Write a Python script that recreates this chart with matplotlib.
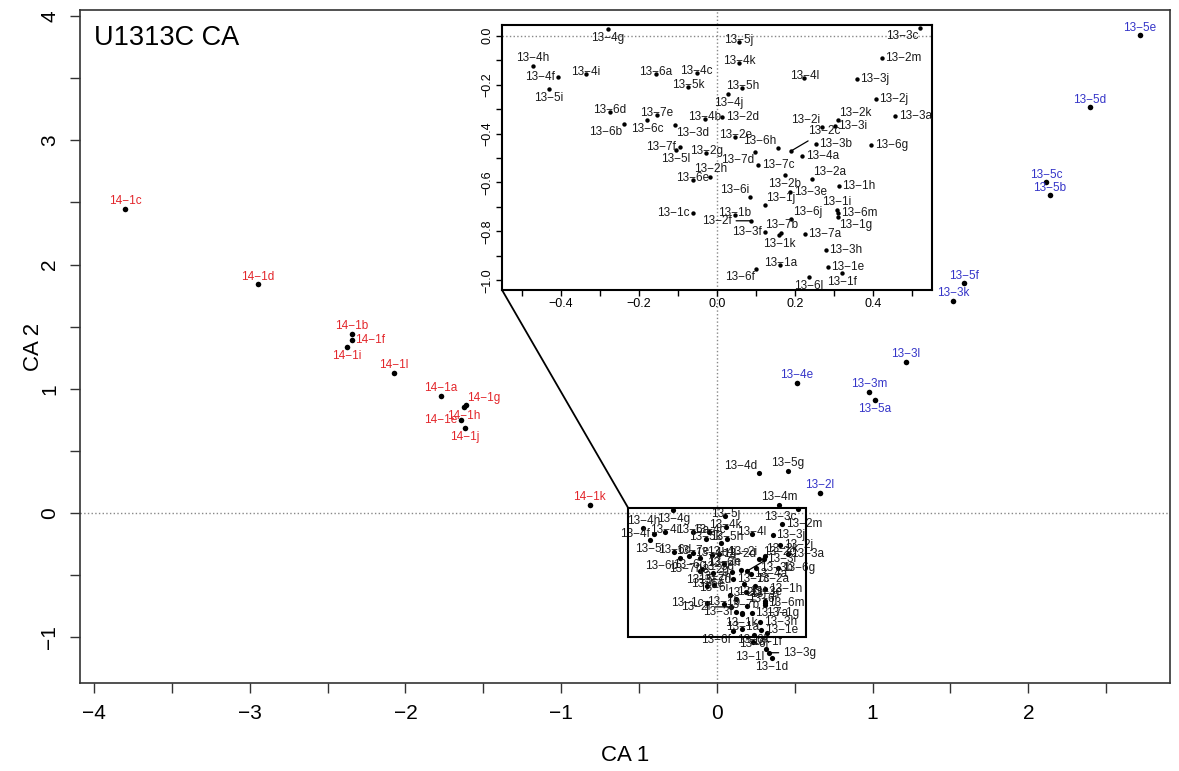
import matplotlib.pyplot as plt
from matplotlib.patches import Rectangle, ConnectionPatch

plt.rcParams['font.family'] = ['Liberation Sans', 'DejaVu Sans']

# site 14 samples (red)
labels_14 = ['14-1a', '14-1b', '14-1c', '14-1d', '14-1e', '14-1f',
             '14-1g', '14-1h', '14-1i', '14-1j', '14-1k', '14-1l']
ca1_14 = [-1.773, -2.344, -3.802, -2.948, -1.644, -2.344,
          -1.612, -1.625, -2.376, -1.618, -0.816, -2.074]
ca2_14 = [0.941, 1.440, 2.446, 1.842, 0.748, 1.392,
          0.869, 0.853, 1.336, 0.684, 0.064, 1.126]
pos_14 = ['a', 'a', 'a', 'a', 'l', 'r', 'ar', 'b', 'b', 'b', 'a', 'a']

# site 13 outliers (blue)
labels_13o = ['13-2l', '13-3k', '13-3l', '13-3m', '13-4e', '13-5a',
              '13-5b', '13-5c', '13-5d', '13-5e', '13-5f']
ca1_13o = [0.662, 1.516, 1.214, 0.976, 0.514, 1.015, 2.139, 2.113, 2.396, 2.717, 1.586]
ca2_13o = [0.161, 1.706, 1.215, 0.973, 1.046, 0.909, 2.558, 2.663, 3.266, 3.846, 1.850]
pos_13o = ['a', 'a', 'a', 'a', 'a', 'b', 'a', 'a', 'a', 'a', 'a']

# site 13 black samples outside the zoom box
labels_13x = ['13-1d', '13-1l', '13-3g', '13-4d', '13-4m', '13-5g', '13-6k']
ca1_13x = [0.353, 0.315, 0.334, 0.270, 0.398, 0.456, 0.231]
ca2_13x = [-1.170, -1.094, -1.126, 0.322, 0.064, 0.338, -1.040]
pos_13x = ['b', 'bl', 'G', 'al', 'a', 'a', 'c']

# site 13 samples inside the zoom box
labels_13 = ['13-1a', '13-1b', '13-1c', '13-1e', '13-1f', '13-1g', '13-1h', '13-1i', '13-1j', '13-1k',
             '13-2a', '13-2b', '13-2c', '13-2d', '13-2e', '13-2f', '13-2g', '13-2h', '13-2i', '13-2j',
             '13-2k', '13-2m',
             '13-3a', '13-3b', '13-3c', '13-3d', '13-3e', '13-3f', '13-3h', '13-3i', '13-3j',
             '13-4a', '13-4b', '13-4c', '13-4f', '13-4g', '13-4h', '13-4i', '13-4j', '13-4k', '13-4l',
             '13-5h', '13-5i', '13-5j', '13-5k', '13-5l',
             '13-6a', '13-6b', '13-6c', '13-6d', '13-6e', '13-6f', '13-6g', '13-6h', '13-6i', '13-6j',
             '13-6l', '13-6m',
             '13-7a', '13-7b', '13-7c', '13-7d', '13-7e', '13-7f']
ca1_13 = [0.162, 0.045, -0.062, 0.284, 0.319, 0.309, 0.312, 0.307, 0.123, 0.159,
          0.243, 0.174, 0.190, 0.014, 0.047, 0.088, -0.027, -0.017, 0.268, 0.406,
          0.309, 0.421,
          0.456, 0.253, 0.520, -0.108, 0.187, 0.123, 0.279, 0.302, 0.358,
          0.218, -0.032, -0.052, -0.406, -0.279, -0.472, -0.335, 0.029, 0.057, 0.223,
          0.065, -0.431, 0.055, -0.073, -0.106,
          -0.156, -0.238, -0.179, -0.274, -0.062, 0.101, 0.395, 0.156, 0.085, 0.190,
          0.235, 0.309,
          0.225, 0.164, 0.106, 0.098, -0.154, -0.095]
ca2_13 = [-0.937, -0.733, -0.724, -0.945, -0.969, -0.741, -0.614, -0.712, -0.692, -0.814,
          -0.586, -0.569, -0.471, -0.333, -0.414, -0.757, -0.480, -0.578, -0.373, -0.259,
          -0.345, -0.092,
          -0.329, -0.443, 0.031, -0.365, -0.639, -0.802, -0.876, -0.369, -0.178,
          -0.492, -0.341, -0.153, -0.169, 0.027, -0.124, -0.157, -0.239, -0.112, -0.173,
          -0.214, -0.218, -0.027, -0.210, -0.467,
          -0.157, -0.361, -0.345, -0.312, -0.590, -0.953, -0.447, -0.459, -0.659, -0.749,
          -0.986, -0.724,
          -0.810, -0.806, -0.529, -0.476, -0.324, -0.455]
pos_13 = ['c', 'c', 'l', 'r', 'b', 'br', 'r', 'a', 'ar', 'b',
          'ar', 'b', 'R', 'r', 'c', 'L', 'c', 'a', 'al', 'r', 'ar', 'r',
          'r', 'r', 'bl', 'br', 'r', 'l', 'r', 'r', 'r',
          'r', 'c', 'c', 'l', 'b', 'a', 'c', 'b', 'c', 'c',
          'c', 'b', 'c', 'c', 'b',
          'c', 'bl', 'b', 'c', 'c', 'bl', 'r', 'al', 'al', 'ar', 'b', 'r',
          'r', 'a', 'r', 'bl', 'c', 'l']

# label offsets in points: dx, dy, horizontal alignment
offsets = {
    'c': (0, 1.5, 'center'), 'a': (0, 5.5, 'center'), 'b': (0, -6.5, 'center'),
    'l': (-2.5, 0, 'right'), 'r': (2.5, 0, 'left'),
    'al': (-1, 5, 'right'), 'ar': (1, 5, 'left'),
    'bl': (-1, -6, 'right'), 'br': (1, -6, 'left'),
    'L': (-14, 0, 'right'), 'R': (12, 14, 'left'), 'G': (10, 0, 'left'),
}
leaders = ['L', 'R', 'G']

red = '#e3262b'
blue = '#3535c8'
dark = '#1a1a1a'


def draw_points(ax, xs, ys, labs, places, color, fs, ms, clip=False):
    ax.scatter(xs, ys, s=ms, color='black', zorder=3, linewidths=0, clip_on=clip)
    for x, y, lab, p in zip(xs, ys, labs, places):
        dx, dy, ha = offsets[p]
        kw = {}
        if p in leaders:
            kw['arrowprops'] = dict(arrowstyle='-', lw=0.9, color='black',
                                    shrinkA=1, shrinkB=0)
        t = ax.annotate(lab.replace('-', '\u2212'), (x, y), xytext=(dx, dy),
                        textcoords='offset points', ha=ha, va='center',
                        fontsize=fs, color=color, zorder=4, **kw)
        t.set_clip_on(clip)


fig = plt.figure(figsize=(11.79, 7.71), dpi=100)
ax = fig.add_axes([0.0679, 0.1141, 0.9245, 0.8730])

ax.axhline(0, color='#888888', ls=':', lw=1, zorder=1)
ax.axvline(0, color='#888888', ls=':', lw=1, zorder=1)

draw_points(ax, ca1_14, ca2_14, labels_14, pos_14, red, 8.5, 16)
draw_points(ax, ca1_13o, ca2_13o, labels_13o, pos_13o, blue, 8.5, 16)
draw_points(ax, ca1_13x, ca2_13x, labels_13x, pos_13x, dark, 8.5, 14)
draw_points(ax, ca1_13, ca2_13, labels_13, pos_13, dark, 8.5, 14)

ax.add_patch(Rectangle((-0.57, -1.0), 1.14, 1.04, fill=False, lw=1.5,
                       ec='black', zorder=5))

ax.set_xlim(-4.09, 2.91)
ax.set_ylim(-1.37, 4.05)
ax.set_xticks(range(-4, 3))
ax.set_xticklabels([str(v).replace('-', '\u2212') for v in range(-4, 3)])
ax.set_xticks([v + 0.5 for v in range(-4, 3)], minor=True)
ax.set_yticks(range(-1, 5))
ax.set_yticklabels([str(v).replace('-', '\u2212') for v in range(-1, 5)])
ax.set_yticks([v + 0.5 for v in range(-1, 4)], minor=True)
ax.tick_params(which='both', direction='out', length=7, width=1, labelsize=15,
               color='#333333', pad=8)
ax.tick_params(axis='y', labelrotation=90, pad=8)
for lab in ax.get_yticklabels():
    lab.set_va('center')
for s in ax.spines.values():
    s.set_color('#333333')
    s.set_linewidth(1.2)

ax.set_xlabel('CA 1', fontsize=16, labelpad=16)
ax.set_ylabel('CA 2', fontsize=16, labelpad=-3)
ax.text(0.013, 0.978, 'U1313C CA', transform=ax.transAxes, fontsize=19.5,
        ha='left', va='top')

# zoomed inset
axi = fig.add_axes([0.4258, 0.6239, 0.3647, 0.3437])
axi.set_facecolor('white')
axi.axhline(0, color='#888888', ls=':', lw=1, zorder=1)
axi.axvline(0, color='#888888', ls=':', lw=1, zorder=1)
draw_points(axi, ca1_13, ca2_13, labels_13, pos_13, dark, 8.5, 10, clip=True)
axi.set_xlim(-0.55, 0.55)
axi.set_ylim(-1.04, 0.044)
xt = [-0.4, -0.2, 0.0, 0.2, 0.4]
yt = [0.0, -0.2, -0.4, -0.6, -0.8, -1.0]
axi.set_xticks(xt)
axi.set_xticklabels([f'{v:.1f}'.replace('-', '\u2212') for v in xt])
axi.set_xticks([-0.5, -0.3, -0.1, 0.1, 0.3, 0.5], minor=True)
axi.set_yticks(yt)
axi.set_yticklabels([f'{v:.1f}'.replace('-', '\u2212') for v in yt])
axi.set_yticks([-0.1, -0.3, -0.5, -0.7, -0.9], minor=True)
axi.tick_params(which='both', direction='out', length=4, width=1, labelsize=9,
                pad=2)
axi.tick_params(axis='y', labelrotation=90)
for lab in axi.get_yticklabels():
    lab.set_va('center')
for s in axi.spines.values():
    s.set_linewidth(1.5)

con = ConnectionPatch(xyA=(-0.57, 0.04), coordsA=ax.transData,
                      xyB=(0, 0), coordsB=axi.transAxes, lw=1.3, color='black')
fig.add_artist(con)

fig.savefig('out.png', dpi=100)
